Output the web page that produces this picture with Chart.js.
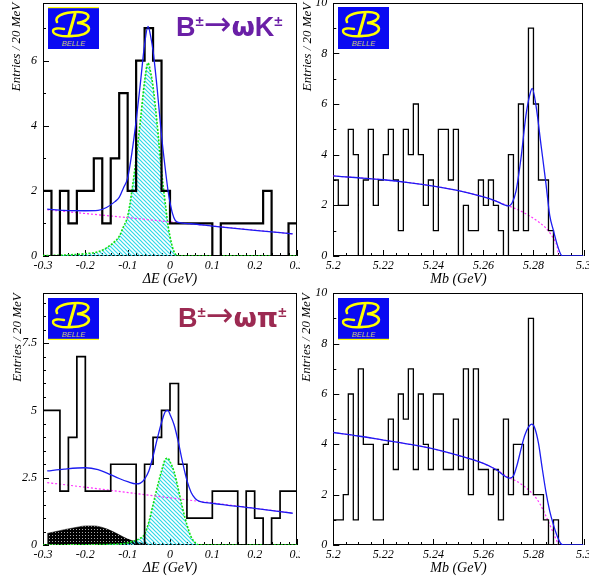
<!DOCTYPE html>
<html><head><meta charset="utf-8">
<script src="https://cdn.jsdelivr.net/npm/chart.js@4"></script>
<style>
html,body{margin:0;padding:0;background:#fff;}
body{width:589px;height:581px;position:relative;overflow:hidden;}
canvas{position:absolute;}
.rx{position:absolute;font-family:"Liberation Sans","DejaVu Sans",sans-serif;font-size:27px;font-weight:bold;white-space:nowrap;line-height:1;}
.rx sup{font-size:15px;vertical-align:baseline;position:relative;top:-10px;line-height:0;}
.rx .ar{font-family:"DejaVu Sans",sans-serif;font-weight:normal;font-size:33px;line-height:0;position:relative;top:-1px;}
.rx .gr{font-family:"DejaVu Sans",sans-serif;font-size:27px;line-height:0;}
.logo{position:absolute;}
</style></head><body>
<canvas id="cTL" width="300" height="288" style="left:0;top:0"></canvas>
<canvas id="cTR" width="291" height="288" style="left:298px;top:0"></canvas>
<canvas id="cBL" width="300" height="293" style="left:0;top:288px"></canvas>
<canvas id="cBR" width="291" height="293" style="left:298px;top:288px"></canvas>
<div class="rx" style="left:176px;top:14px;color:#6a1fa6">B<sup>±</sup><span class="ar">→</span><span class="gr">ω</span>K<sup>±</sup></div>
<div class="rx" style="left:178px;top:305px;color:#9c2a52">B<sup>±</sup><span class="ar">→</span><span class="gr">ωπ</span><sup>±</sup></div>
<script>
// ---------------- DATA ----------------
// Delta E histograms: 30 bins of 20 MeV from -0.3 to 0.3 GeV
const dEStart = -0.3, dEWidth = 0.02;
// Mbc histograms: 50 bins of 2 MeV from 5.2 to 5.3 GeV
const mbStart = 5.2, mbWidth = 0.002;

const omegaK_dE_counts  = [2,0,2,1,2,2,3,1,3,5,2,6,7,6,2,1,1,1,1,1,0,1,1,1,1,1,2,0,0,1];
const omegaK_mb_counts  = [3,2,2,5,4,0,3,5,2,3, 4,5,3,1,5,4,6,4,2,3, 1,5,5,3,5,0,2,1,1,3, 2,3,2,1,0,4,1,6,1,9, 6,3,3,1,0,0,0,0,0,0];
const omegaPi_dE_counts = [5,5,2,4,7,2,2,2,3,3,3,0,3,4,5,6,3,1,1,1,2,2,2,0,2,1,0,1,2,2];
const omegaPi_mb_counts = [1,1,2,6,1,7,4,4,1,1, 4,5,3,6,5,7,3,6,4,3, 6,6,3,3,5,3,7,2,7,3, 3,2,3,1,5,2,4,4,2,9, 2,2,1,0,1,0,0,0,0,0];

// omega K, Delta E fit curves
const kDE_fit_x = [-0.29,-0.25,-0.20,-0.17,-0.15,-0.13,-0.12,-0.11,-0.10,-0.09,-0.08,-0.07,-0.06,-0.052,-0.045,-0.04,-0.03,-0.02,-0.01,-0.004,0.0,0.006,0.012,0.02,0.05,0.10,0.20,0.29];
const kDE_fit_y = [1.44,1.40,1.39,1.40,1.49,1.67,1.80,2.09,2.40,3.17,4.15,5.30,6.50,7.05,6.70,6.30,5.10,3.70,2.55,1.95,1.65,1.30,1.10,1.03,0.99,0.92,0.79,0.68];
const kDE_bkg_x = [-0.29, 0.29];
const kDE_bkg_y = [1.42, 0.68];
const kDE_sig_x = [-0.30,-0.25,-0.20,-0.17,-0.15,-0.13,-0.12,-0.11,-0.10,-0.09,-0.08,-0.07,-0.06,-0.052,-0.045,-0.04,-0.03,-0.02,-0.01,-0.004,0.0,0.006,0.012,0.02,0.30];
const kDE_sig_y = [0.01,0.03,0.07,0.13,0.25,0.45,0.60,0.90,1.22,2.0,3.0,4.16,5.37,5.93,5.59,5.2,4.01,2.62,1.49,0.89,0.6,0.26,0.07,0,0];

// omega pi, Delta E fit curves
const piDE_fit_x = [-0.29,-0.25,-0.20,-0.17,-0.15,-0.12,-0.10,-0.08,-0.07,-0.06,-0.05,-0.04,-0.03,-0.02,-0.01,-0.005,0.0,0.01,0.02,0.03,0.04,0.05,0.06,0.07,0.10,0.20,0.29];
const piDE_fit_y = [2.75,2.82,2.87,2.80,2.68,2.47,2.35,2.27,2.30,2.45,2.75,3.30,3.95,4.55,4.98,5.00,4.85,4.45,3.80,3.05,2.40,1.95,1.72,1.62,1.55,1.36,1.18];
const piDE_bkg_x = [-0.29, 0.29];
const piDE_bkg_y = [2.32, 1.19];
const piDE_sig_x = [-0.30,-0.15,-0.10,-0.08,-0.07,-0.06,-0.05,-0.04,-0.03,-0.02,-0.01,-0.005,0.0,0.01,0.02,0.03,0.04,0.05,0.06,0.07,0.30];
const piDE_sig_y = [0,0.02,0.08,0.18,0.25,0.4,0.85,1.5,2.15,2.75,3.2,3.22,3.1,2.7,2.05,1.35,0.75,0.3,0.08,0,0];
const piDE_feed_x = [-0.29,-0.27,-0.25,-0.22,-0.20,-0.18,-0.15,-0.12,-0.10,-0.08,-0.06,-0.04,-0.02];
const piDE_feed_y = [0.43,0.50,0.57,0.66,0.71,0.71,0.60,0.38,0.22,0.12,0.05,0.01,0];

// omega K, Mbc fit curves
const kMb_fit_x = [5.2,5.21,5.22,5.23,5.24,5.25,5.26,5.265,5.27,5.2715,5.273,5.275,5.277,5.2785,5.2795,5.281,5.283,5.285,5.2865,5.288,5.2895,5.291,5.292,5.3];
const kMb_fit_y = [3.16,3.09,3.01,2.9,2.76,2.58,2.33,2.17,1.98,2.1,2.55,3.85,5.55,6.35,6.62,5.95,4.4,2.85,1.6,1.0,0.45,0.05,0,0];
const kMb_bkg_x = [5.2,5.21,5.22,5.23,5.24,5.25,5.26,5.265,5.27,5.273,5.276,5.279,5.282,5.285,5.287,5.2885,5.2895,5.29];
const kMb_bkg_y = [3.16,3.09,3.01,2.9,2.76,2.58,2.33,2.17,1.98,1.86,1.72,1.55,1.35,1.1,0.85,0.6,0.35,0];

// omega pi, Mbc fit curves
const piMb_fit_x = [5.2,5.21,5.22,5.23,5.24,5.25,5.26,5.265,5.2705,5.272,5.2735,5.275,5.2765,5.278,5.2793,5.2805,5.282,5.2835,5.285,5.2865,5.288,5.2895,5.291,5.292,5.3];
const piMb_fit_y = [4.47,4.33,4.17,4.01,3.82,3.56,3.24,3.0,2.66,2.75,3.2,3.8,4.35,4.68,4.8,4.65,4.05,3.05,2.1,1.35,0.8,0.35,0.05,0,0];
const piMb_bkg_x = [5.2,5.21,5.22,5.23,5.24,5.25,5.26,5.265,5.2705,5.273,5.276,5.2795,5.2825,5.285,5.287,5.2885,5.29];
const piMb_bkg_y = [4.47,4.33,4.17,4.01,3.82,3.56,3.24,3.0,2.66,2.55,2.35,2.05,1.65,1.15,0.7,0.35,0];

// tick values and labels
const dETicks = [-0.3,-0.2,-0.1,0,0.1,0.2,0.3];
const dETickLabels = ['-0.3','-0.2','-0.1','0','0.1','0.2','0.3'];
const mbTicks = [5.2,5.22,5.24,5.26,5.28,5.3];
const mbTickLabels = ['5.2','5.22','5.24','5.26','5.28','5.3'];
const kDEYTicks = [0,2,4,6];       const kDEYLabels = ['0','2','4','6'];
const kMbYTicks = [0,2,4,6,8,10];  const kMbYLabels = ['0','2','4','6','8','10'];
const piDEYTicks = [0,2.5,5,7.5];  const piDEYLabels = ['0','2.5','5','7.5'];
const piMbYTicks = [0,2,4,6,8,10]; const piMbYLabels = ['0','2','4','6','8','10'];

// ---------------- HELPERS ----------------
function histPoints(start, width, counts){
  const pts = counts.map((c,i)=>({x:start+i*width, y:c}));
  pts.push({x:start+counts.length*width, y:counts[counts.length-1]});
  return pts;
}
function curve(xs, ys){ return xs.map((x,i)=>({x:x, y:ys[i]})); }
function minorTicks(a, b, step){ const r=[]; const n=Math.round((b-a)/step); for(let i=0;i<=n;i++) r.push(a+i*step); return r; }

function cyanPattern(ctx){
  const c=document.createElement('canvas'); c.width=4; c.height=4;
  const g=c.getContext('2d');
  g.strokeStyle='#30d8e8'; g.lineWidth=1.2;
  g.beginPath();
  g.moveTo(0,0); g.lineTo(4,4);
  g.moveTo(-1,3); g.lineTo(1,5);
  g.moveTo(3,-1); g.lineTo(5,1);
  g.stroke();
  return ctx.createPattern(c,'repeat');
}
function blackPattern(ctx){
  const c=document.createElement('canvas'); c.width=3; c.height=3;
  const g=c.getContext('2d');
  g.fillStyle='#000'; g.fillRect(0,0,3,3);
  g.fillStyle='#aaa'; g.fillRect(1,1,1,1);
  return ctx.createPattern(c,'repeat');
}

const frameTicks = {
  id:'frameTicks',
  beforeDatasetsDraw(chart, args, o){
    const {ctx, chartArea:a} = chart; const x=chart.scales.x, y=chart.scales.y;
    ctx.save();
    ctx.strokeStyle='#000'; ctx.lineWidth=1;
    ctx.strokeRect(Math.round(a.left)+0.5, Math.round(a.top)+0.5, Math.round(a.right-a.left)-1, Math.round(a.bottom-a.top)-1);
    ctx.beginPath();
    const tick=(vals,len,isX)=>vals.forEach(v=>{
      if(isX){ const p=Math.round(x.getPixelForValue(v))+0.5; ctx.moveTo(p,a.bottom); ctx.lineTo(p,a.bottom-len); }
      else { const p=Math.round(y.getPixelForValue(v))+0.5; ctx.moveTo(a.left,p); ctx.lineTo(a.left+len,p); }
    });
    tick(o.xMajor,6,true); tick(o.xMinor,3,true);
    tick(o.yMajor,6,false); tick(o.yMinor,3,false);
    ctx.stroke(); ctx.restore();
  }
};

const TICKFONT = {family:'"Liberation Serif", "DejaVu Serif", serif', size:12, style:'italic'};
const XTFONT = {family:'"Liberation Serif", "DejaVu Serif", serif', size:14, style:'italic'};
const YTFONT = {family:'"Liberation Serif", "DejaVu Serif", serif', size:13, style:'italic'};

function build(id, o){
  const ctx=document.getElementById(id).getContext('2d');
  const ds=[];
  ds.push({label:'fit', data:curve(o.fitX,o.fitY), borderColor:'#1c1cf0', borderWidth:1.3, pointRadius:0, cubicInterpolationMode:'monotone', fill:false});
  ds.push({label:'data', data:histPoints(o.hStart,o.hWidth,o.counts), stepped:true, borderColor:'#000', borderWidth:o.histW, pointRadius:0, fill:false});
  ds.push({label:'bkg', data:curve(o.bkgX,o.bkgY), borderColor:'#ff30ff', borderWidth:1.2, borderDash:[2,2], pointRadius:0, cubicInterpolationMode:'monotone', fill:false});
  if(o.sigX) ds.push({label:'signal', data:curve(o.sigX,o.sigY), borderColor:'#10e010', borderWidth:1.6, borderDash:[2,1.5], pointRadius:0, cubicInterpolationMode:'monotone', fill:'origin', backgroundColor:cyanPattern(ctx)});
  if(o.feedX) ds.push({label:'feed', data:curve(o.feedX,o.feedY), borderColor:'#000', borderWidth:0.5, pointRadius:0, cubicInterpolationMode:'monotone', fill:'origin', backgroundColor:blackPattern(ctx)});
  return new Chart(ctx,{
    type:'line',
    data:{datasets:ds},
    plugins:[frameTicks],
    options:{
      responsive:false, animation:false, devicePixelRatio:1,
      layout:{padding:o.pad},
      plugins:{legend:{display:false}, tooltip:{enabled:false},
        frameTicks:{xMajor:o.xTicks, xMinor:o.xMinor, yMajor:o.yTicks, yMinor:o.yMinor}},
      scales:{
        x:{type:'linear', min:o.xmin, max:o.xmax,
          grid:{display:false, drawTicks:false, tickLength:0}, border:{display:false},
          ticks:{font:TICKFONT, color:'#000', padding:3, maxRotation:0, autoSkip:false,
            callback:(v,i)=>o.xLabels[i]},
          afterBuildTicks:s=>{ s.ticks=o.xTicks.map(v=>({value:v})); },
          afterFit:s=>{ s.height=o.xH; s.paddingLeft=0; s.paddingRight=0; },
          title:{display:true, text:o.xTitle, font:XTFONT, color:'#000', padding:{top:0,bottom:o.xTitlePad}}
        },
        y:{type:'linear', min:0, max:o.ymax,
          grid:{display:false, drawTicks:false, tickLength:0}, border:{display:false},
          ticks:{font:TICKFONT, color:'#000', padding:6, autoSkip:false, callback:(v,i)=>o.yLabels[i]},
          afterBuildTicks:s=>{ s.ticks=o.yTicks.map(v=>({value:v})); },
          afterFit:s=>{ s.width=o.yW; s.paddingTop=0; s.paddingBottom=0; },
          title:{display:true, text:'Entries / 20 MeV', align:'end', font:YTFONT, color:'#000', padding:{top:o.yTitlePad,bottom:0}}
        }
      }
    }
  });
}

build('cTL',{fitX:kDE_fit_x,fitY:kDE_fit_y,bkgX:kDE_bkg_x,bkgY:kDE_bkg_y,sigX:kDE_sig_x,sigY:kDE_sig_y,
  hStart:dEStart,hWidth:dEWidth,counts:omegaK_dE_counts,histW:2.2,
  xmin:-0.3,xmax:0.3,ymax:7.78,xTicks:dETicks,xLabels:dETickLabels,xMinor:minorTicks(-0.3,0.3,0.02),
  yTicks:kDEYTicks,yLabels:kDEYLabels,yMinor:minorTicks(0,7,1),
  pad:{left:0,top:2.7,right:3,bottom:0},xH:32,yW:43,xTitle:'ΔE (GeV)',xTitlePad:0.6,yTitlePad:9.2});
build('cTR',{fitX:kMb_fit_x,fitY:kMb_fit_y,bkgX:kMb_bkg_x,bkgY:kMb_bkg_y,
  hStart:mbStart,hWidth:mbWidth,counts:omegaK_mb_counts,histW:1.3,
  xmin:5.2,xmax:5.3,ymax:10,xTicks:mbTicks,xLabels:mbTickLabels,xMinor:minorTicks(5.2,5.3,0.005),
  yTicks:kMbYTicks,yLabels:kMbYLabels,yMinor:minorTicks(0,10,1),
  pad:{left:0,top:2.7,right:5.5,bottom:0},xH:32,yW:35.3,xTitle:'Mb (GeV)',xTitlePad:0.6,yTitlePad:2.2});
build('cBL',{fitX:piDE_fit_x,fitY:piDE_fit_y,bkgX:piDE_bkg_x,bkgY:piDE_bkg_y,sigX:piDE_sig_x,sigY:piDE_sig_y,feedX:piDE_feed_x,feedY:piDE_feed_y,
  hStart:dEStart,hWidth:dEWidth,counts:omegaPi_dE_counts,histW:1.7,
  xmin:-0.3,xmax:0.3,ymax:9.35,xTicks:dETicks,xLabels:dETickLabels,xMinor:minorTicks(-0.3,0.3,0.02),
  yTicks:piDEYTicks,yLabels:piDEYLabels,yMinor:minorTicks(0,9,0.5),
  pad:{left:0,top:5.3,right:3,bottom:0},xH:36,yW:43,xTitle:'ΔE (GeV)',xTitlePad:4.6,yTitlePad:10.2});
build('cBR',{fitX:piMb_fit_x,fitY:piMb_fit_y,bkgX:piMb_bkg_x,bkgY:piMb_bkg_y,
  hStart:mbStart,hWidth:mbWidth,counts:omegaPi_mb_counts,histW:1.3,
  xmin:5.2,xmax:5.3,ymax:10,xTicks:mbTicks,xLabels:mbTickLabels,xMinor:minorTicks(5.2,5.3,0.005),
  yTicks:piMbYTicks,yLabels:piMbYLabels,yMinor:minorTicks(0,10,1),
  pad:{left:0,top:5.3,right:5.5,bottom:0},xH:36,yW:35.3,xTitle:'Mb (GeV)',xTitlePad:4.6,yTitlePad:1.2});

// ---------------- BELLE logos ----------------
function logo(left, top, lineTop, lineBottom){
  const d=document.createElement('div'); d.className='logo';
  d.style.left=left+'px'; d.style.top=top+'px';
  d.innerHTML='<svg width="51" height="42" viewBox="0 0 51 42" xmlns="http://www.w3.org/2000/svg">'+
   '<rect width="51" height="42" fill="#0a0af2"/>'+
   (lineTop?'<rect width="51" height="1.2" fill="#ffff00"/>':'')+
   (lineBottom?'<rect y="40.8" width="51" height="1.2" fill="#ffff00"/>':'')+
   '<path d="M9 15 C6 10, 14 5, 30 5 C44 5, 44 14, 29 16 C47 17, 44 29, 24 29" stroke="#ffff00" stroke-width="2.6" fill="none" stroke-linecap="round"/>'+
   '<path d="M27 7 L21 28" stroke="#ffff00" stroke-width="3" fill="none" stroke-linecap="round"/>'+
   '<path d="M24 29 C14 30, 5 28, 5 24 C5 21, 11 21, 16 22" stroke="#ffff00" stroke-width="2.4" fill="none" stroke-linecap="round"/>'+
   '<text x="25.5" y="38.5" font-size="7.5" font-style="italic" font-family="Liberation Sans, sans-serif" fill="#cfc878" text-anchor="middle">BELLE</text>'+
   '</svg>';
  document.body.appendChild(d);
}
logo(48,7,true,false);
logo(338,7,false,false);
logo(48,298,false,true);
logo(338,298,false,true);
</script>
</body></html>
